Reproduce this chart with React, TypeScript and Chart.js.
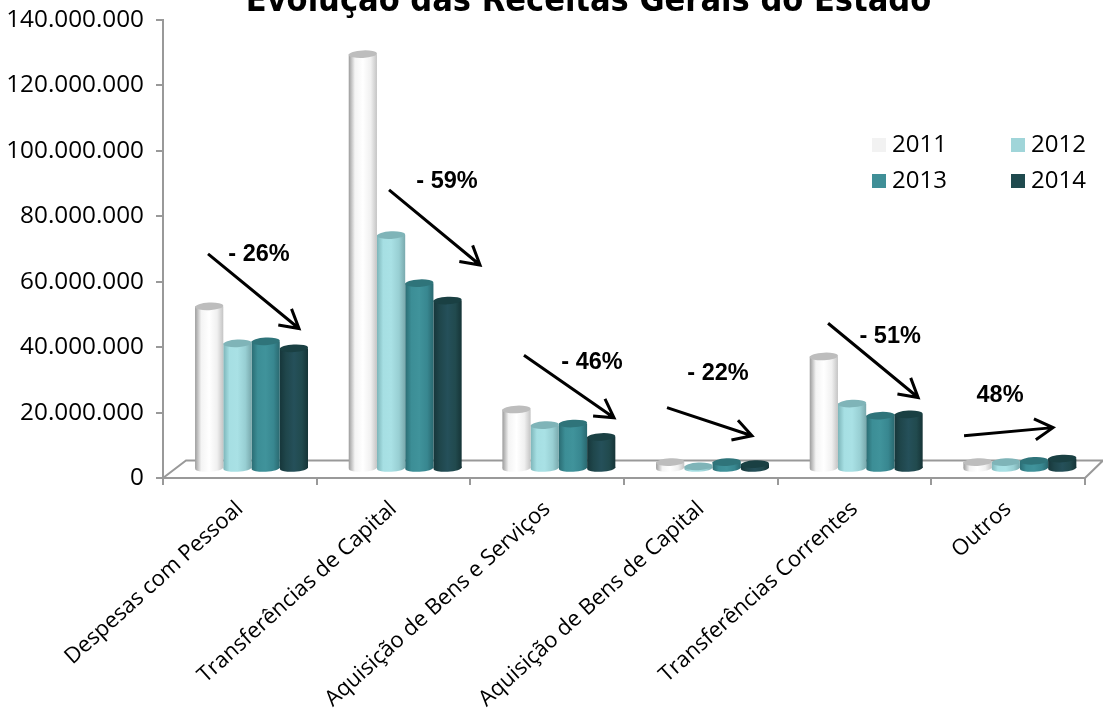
import React, { useEffect, useRef } from "react";
import { Chart, registerables } from "chart.js";

Chart.register(...registerables);

const categories = [
  "Despesas com Pessoal",
  "Transferências de Capital",
  "Aquisição de Bens e Serviços",
  "Aquisição de Bens de Capital",
  "Transferências Correntes",
  "Outros",
];
const years = ["2011", "2012", "2013", "2014"];
const values2011 = [49700000, 126800000, 18200000, 2100000, 34400000, 2100000];
const values2012 = [38400000, 71500000, 13400000, 800000, 20000000, 2100000];
const values2013 = [39000000, 56800000, 13900000, 2100000, 16300000, 2500000];
const values2014 = [36900000, 51500000, 9800000, 1500000, 16700000, 3200000];

const changeLabels = ["- 26%", "- 59%", "- 46%", "- 22%", "- 51%", "48%"];
const labelCats = [0.125, 1.348, 2.292, 3.112, 4.232, 4.947];
const labelVals = [68.2e6, 90.6e6, 35.3e6, 31.9e6, 43.3e6, 25.2e6];
const arrowFromCats = [-0.207, 0.971, 1.849, 2.78, 3.828, 4.713];
const arrowFromVals = [68.5e6, 88.1e6, 37.5e6, 21.5e6, 47.3e6, 12.9e6];
const arrowToCats = [0.385, 1.563, 2.435, 3.333, 4.414, 5.292];
const arrowToVals = [45.7e6, 65.1e6, 18.4e6, 12.9e6, 24.6e6, 15.4e6];

const legendColors = ["#f2f2f2", "#a0d5d9", "#3f8f97", "#1f4a4e"];
const capColors = ["#bdbdbd", "#7fb4b8", "#2f747a", "#1a4043"];
const gradientStops = [
  ["#9c9c9c", "#f4f4f4", "#ffffff", "#f0f0f0", "#c4c4c4"],
  ["#7db5b9", "#a6dfe3", "#a9e1e5", "#98cfd3", "#79a9ad"],
  ["#2a6c73", "#3c8e96", "#40939b", "#388790", "#2a6970"],
  ["#16363a", "#1f464b", "#25505a", "#214a4e", "#163437"],
];

const TEXT_FONT = '"Open Sans"';
const SHIFT_X = 11.7;
const SHIFT_Y = -9;
const CAP_RY = 3.8;
const TILT = -0.05;

const cylinderPlugin = {
  id: "cylinder",
  beforeDatasetsDraw(chart: any) {
    const { ctx, scales } = chart;
    const left = scales.x.left;
    const right = scales.x.right;
    const front = scales.y.bottom;
    const back = front - 17.5;
    ctx.save();
    ctx.strokeStyle = "#999999";
    ctx.lineWidth = 2;
    ctx.beginPath();
    ctx.moveTo(left, front);
    ctx.lineTo(left + 23, back);
    ctx.lineTo(right + 18, back);
    ctx.moveTo(right, front);
    ctx.lineTo(right + 18, back);
    ctx.stroke();
    ctx.restore();
  },
  beforeDatasetDraw(chart: any, args: any) {
    const { ctx } = chart;
    const i = args.index;
    ctx.save();
    ctx.translate(SHIFT_X, SHIFT_Y);
    args.meta.data.forEach((bar: any) => {
      const half = bar.width / 2;
      const g = ctx.createLinearGradient(bar.x - half, 0, bar.x + half, 0);
      const s = gradientStops[i];
      g.addColorStop(0, s[0]);
      g.addColorStop(0.22, s[1]);
      g.addColorStop(0.5, s[2]);
      g.addColorStop(0.78, s[3]);
      g.addColorStop(1, s[4]);
      bar.options = { ...bar.options, backgroundColor: g, borderWidth: 0 };
      ctx.fillStyle = g;
      ctx.beginPath();
      ctx.ellipse(bar.x, bar.base, half, CAP_RY, TILT, 0, Math.PI * 2);
      ctx.fill();
    });
  },
  afterDatasetDraw(chart: any, args: any) {
    const { ctx } = chart;
    ctx.fillStyle = capColors[args.index];
    args.meta.data.forEach((bar: any) => {
      ctx.beginPath();
      ctx.ellipse(bar.x, bar.y, bar.width / 2, CAP_RY, TILT, 0, Math.PI * 2);
      ctx.fill();
    });
    ctx.restore();
  },
  afterDraw(chart: any) {
    const { ctx, scales } = chart;
    const step = scales.x.getPixelForValue(1) - scales.x.getPixelForValue(0);
    const px = (c: number) => scales.x.getPixelForValue(0) + c * step;
    const py = (v: number) => scales.y.getPixelForValue(v);

    ctx.save();
    // title
    ctx.fillStyle = "#000000";
    ctx.textAlign = "center";
    ctx.textBaseline = "alphabetic";
    ctx.font = 'bold 34px "DejaVu Sans Condensed"';
    ctx.fillText("Evolução das Receitas Gerais do Estado", 588.5, 11);

    // legend
    ctx.textAlign = "left";
    ctx.textBaseline = "middle";
    ctx.font = `24px ${TEXT_FONT}`;
    years.forEach((y, i) => {
      const x = 872 + (i % 2) * 139;
      const top = 138 + Math.floor(i / 2) * 36;
      ctx.fillStyle = legendColors[i];
      ctx.fillRect(x, top, 14, 14);
      ctx.fillStyle = "#000000";
      ctx.fillText(y, x + 20, top + 7);
    });

    // change arrows
    ctx.strokeStyle = "#000000";
    ctx.lineWidth = 3;
    changeLabels.forEach((t, i) => {
      const x0 = px(arrowFromCats[i]);
      const y0 = py(arrowFromVals[i]);
      const x1 = px(arrowToCats[i]);
      const y1 = py(arrowToVals[i]);
      const a = Math.atan2(y1 - y0, x1 - x0);
      ctx.beginPath();
      ctx.moveTo(x0, y0);
      ctx.lineTo(x1, y1);
      ctx.moveTo(x1 - 21 * Math.cos(a - 0.52), y1 - 21 * Math.sin(a - 0.52));
      ctx.lineTo(x1, y1);
      ctx.lineTo(x1 - 21 * Math.cos(a + 0.52), y1 - 21 * Math.sin(a + 0.52));
      ctx.stroke();
      ctx.font = 'bold 23.5px "Liberation Sans"';
      ctx.textAlign = "center";
      ctx.fillStyle = "#000000";
      ctx.fillText(t, px(labelCats[i]), py(labelVals[i]));
    });
    ctx.restore();
  },
};

export default function App() {
  const ref = useRef<HTMLCanvasElement>(null);
  useEffect(() => {
    const series = [values2011, values2012, values2013, values2014];
    const chart = new Chart(ref.current as HTMLCanvasElement, {
      type: "bar",
      data: {
        labels: categories,
        datasets: years.map((y, i) => ({
          label: y,
          data: series[i],
          backgroundColor: legendColors[i],
          borderWidth: 0,
          barPercentage: 1,
          categoryPercentage: 0.735,
          clip: false as any,
        })),
      },
      options: {
        responsive: false,
        animation: false,
        layout: { autoPadding: false, padding: { top: 20, right: 18, left: 0, bottom: 0 } },
        plugins: { legend: { display: false }, title: { display: false }, tooltip: { enabled: false } },
        scales: {
          x: {
            grid: { display: true, drawOnChartArea: false, color: "#999999", lineWidth: 2, tickLength: 7, offset: true },
            border: { color: "#999999", width: 2 },
            ticks: {
              color: "#000000",
              autoSkip: false,
              minRotation: 42,
              maxRotation: 42,
              padding: 11,
              font: { family: TEXT_FONT, size: 22 },
            },
            afterFit: (s: any) => { s.height = 246; s.paddingLeft = 0; s.paddingRight = 0; },
          },
          y: {
            min: 0,
            max: 140000000,
            grid: { display: true, drawOnChartArea: false, color: "#999999", lineWidth: 2, tickLength: 7 },
            border: { color: "#999999", width: 2 },
            ticks: {
              stepSize: 20000000,
              color: "#000000",
              padding: 12,
              font: { family: TEXT_FONT, size: 24.3 },
              callback: (v: any) => Number(v).toLocaleString("de-DE"),
            },
            afterFit: (s: any) => { s.width = 163; s.paddingTop = 0; s.paddingBottom = 0; },
          },
        },
      },
      plugins: [cylinderPlugin],
    });
    return () => chart.destroy();
  }, []);
  return (
    <div style={{ position: "absolute", left: 0, top: 0, width: 1103, height: 724, background: "#ffffff", overflow: "hidden" }}>
      <canvas ref={ref} width={1103} height={724} style={{ display: "block" }} />
    </div>
  );
}
